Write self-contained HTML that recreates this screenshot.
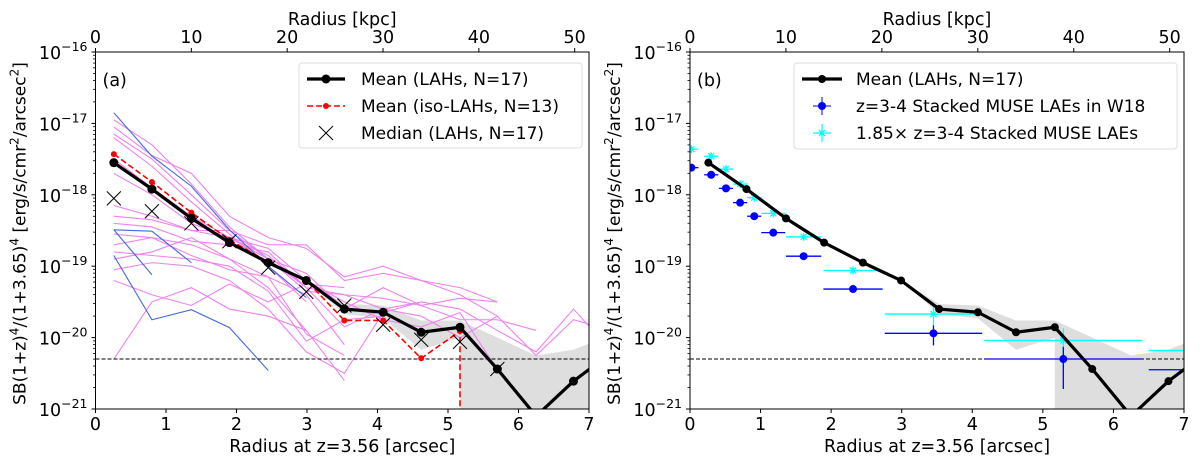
<!DOCTYPE html>
<html><head><meta charset="utf-8"><style>
html,body{margin:0;padding:0;background:#fff;overflow:hidden;}
svg{display:block;font-family:"DejaVu Sans","Liberation Sans",sans-serif;}
</style></head><body>
<svg id="fig" width="1200" height="467" viewBox="0 0 1200 467" xmlns="http://www.w3.org/2000/svg"></svg>
<script>
// ---------- data (log10 SB) ----------
const radii = [0.26,0.80,1.36,1.90,2.45,2.99,3.53,4.08,4.62,5.17,5.70,6.25,6.78,7.33];
const meanLAH = [-17.55,-17.92,-18.33,-18.67,-18.95,-19.20,-19.60,-19.645,-19.925,-19.855,-20.44,-21.1,-20.61,-20.2];
const meanIso = [-17.43,-17.82,-18.25,-18.63,-18.94,-19.20,-19.76,-19.76,-20.29,-19.91,-30,-30,-21.5,-20.5];
const medianLAH = [-18.05,-18.23,-18.40,-18.65,-19.02,-19.36,-19.55,-19.82,-20.03,-20.06,-20.44];
const bandX = [2.99,3.53,4.08,4.62,5.17,5.17,5.70,6.25,6.78,7.33];
const bandHi = [-19.2,-19.53,-19.55,-19.76,-19.76,-19.76,-20.0,-20.25,-20.17,-19.95];
const bandLo = [-19.2,-19.67,-19.73,-20.17,-20.0,-30,-30,-30,-30,-30];
const blueLines = [
 [-16.85,-17.46,-17.88,-18.49,-19.00,-19.44],
 [-18.49,-18.51,-18.95],
 [-18.49,-19.12],
 [-18.85,-19.75,-19.61,-19.86,-20.46]
];
const magentaLines = [
 [-16.95,-17.3,-17.85,-18.45,-18.9,-19.3],
 [-17.05,-17.45,-17.7,-18.3,-18.6,-18.75,-19.15,-19.0,-19.2,-19.4,-19.7],
 [-17.15,-17.5,-18.0,-18.5,-18.9,-19.1,-19.6,-19.3,-19.55,-19.45,-19.5],
 [-17.2,-17.6,-18.1,-18.55,-19.0,-19.5],
 [-17.5,-17.9,-18.3,-18.6,-18.85,-19.3,-19.85,-19.6,-19.7,-20.0,-19.7,-20.25,-19.75,-19.9],
 [-17.7,-18.0,-18.4,-18.6,-18.9,-19.35,-19.4,-19.6,-19.5,-19.6,-19.9,-20.2,-19.6,-20.2],
 [-18.15,-18.3,-18.5,-18.5,-18.7,-18.7,-19.2,-19.1,-19.2,-19.3,-19.5],
 [-18.3,-18.35,-18.5,-18.6,-18.75,-19.2,-19.5,-19.75,-19.85,-19.65,-20.45],
 [-18.4,-18.45,-18.65,-18.7,-18.8,-19.3,-19.4,-19.45,-19.55,-19.75,-19.75,-19.9],
 [-18.55,-18.6,-18.7,-18.9,-19.3,-19.9],
 [-18.7,-18.6,-18.85,-19.05,-19.15,-19.4,-20.1],
 [-18.8,-18.85,-18.9,-19.0,-19.35,-20.05,-19.75,-19.7],
 [-18.9,-18.8,-18.6,-18.9,-19.15,-19.95,-20.25],
 [-19.05,-18.95,-19.0,-19.2,-19.6,-20.2,-20.5,-19.65,-19.5],
 [-20.3,-19.5,-19.3,-19.6,-19.7,-19.9,-20.6],
 [-19.2,-19.4,-19.55,-19.25,-19.5,-19.25,-19.3]
];
const museX = [0.02,0.30,0.51,0.71,0.91,1.18,1.61,2.31,3.45,5.29,7.5];
const museXerr = [0.1,0.1,0.1,0.1,0.1,0.17,0.25,0.42,0.69,1.12,1.0];
const w18 = [-17.62,-17.72,-17.91,-18.11,-18.30,-18.53,-18.86,-19.32,-19.94,-20.30,-20.45];
const w18ErrUp = [0.04,0.04,0.04,0.04,0.04,0.04,0.04,0.04,0.11,0.17,0.05];
const w18ErrDn = [0.04,0.04,0.04,0.04,0.04,0.04,0.04,0.04,0.17,0.42,0.05];
const muse185 = [-17.36,-17.46,-17.64,-17.85,-18.04,-18.26,-18.59,-19.06,-19.67,-20.04,-20.18];
const m185ErrUp = [0.04,0.04,0.04,0.04,0.04,0.04,0.04,0.04,0.11,0.17,0.05];
const m185ErrDn = [0.04,0.04,0.04,0.04,0.04,0.04,0.04,0.04,0.17,0.42,0.05];
const detLimit = -20.3;
const xTicks = [0,1,2,3,4,5,6,7];
const kpcTicks = [0,10,20,30,40,50];
const yDecades = [-16,-17,-18,-19,-20,-21];
const kpcPerArcsec = 7.356;

const NS = "http://www.w3.org/2000/svg";
const svg = document.getElementById('fig');
function el(tag, attrs, parent){ const e=document.createElementNS(NS,tag); for(const k in attrs) e.setAttribute(k,attrs[k]); (parent||svg).appendChild(e); return e; }

function panel(id, X0, X1, label){
  const Y0=52, Y1=409;
  const sx = v => X0 + (v/7)*(X1-X0);
  const sy = v => Y0 + ((-16 - v)/5)*(Y1-Y0);
  const g = el('g',{});
  
  
  const cp = el('clipPath',{id:'clip'+id}, g);
  el('rect',{x:X0,y:Y0,width:X1-X0,height:Y1-Y0},cp);
  const plot = el('g',{'clip-path':'url(#clip'+id+')'}, g);
  
  
  let d='';
  bandX.forEach((x,i)=>{ d += (i?'L':'M')+sx(x)+','+sy(Math.max(bandHi[i],-22)); });
  for(let i=bandX.length-1;i>=0;i--) d += 'L'+sx(bandX[i])+','+sy(Math.max(bandLo[i],-22));
  const band = el('path',{d:d+'Z',fill:'#dedede',stroke:'none'},plot);
  
  
  const line = (vals, attrs, name) => {
    const pts = vals.map((v,i)=>sx(radii[i])+','+sy(Math.max(v,-22))).join(' ');
    const p = el('polyline',Object.assign({points:pts,fill:'none'},attrs),plot);
    
    
    return p;
  };
  if(id==='a'){
    magentaLines.forEach((m,i)=>line(m,{stroke:'#ee82ee','stroke-width':1.1},'lah-profile-'+(i+1)));
    blueLines.forEach((m,i)=>line(m,{stroke:'#4169e1','stroke-width':1.1},'blue-profile-'+(i+1)));
  }
  const dl = el('line',{x1:X0,x2:X1,y1:sy(detLimit),y2:sy(detLimit),stroke:'#000','stroke-width':1,'stroke-dasharray':'4,2'},plot);
  
  
  if(id==='a'){
    // iso mean: zero values drop vertically to the bottom
    let pd='', pen=false;
    meanIso.forEach((v,i)=>{
      const x=sx(radii[i]);
      if(v<=-30){ if(pen){ pd+='L'+x.toFixed(1)+','+(Y1+5); } pen=false; return; }
      if(!pen && i>0 && meanIso[i-1]<=-30){ pd+='M'+x+','+(Y1+5)+'L'+x+','+sy(v); }
      else pd += (pen?'L':'M')+x+','+sy(v);
      pen=true;
    });
    // first vertical drop at the point before a zero
    pd=''; pen=false;
    for(let i=0;i<meanIso.length;i++){
      const v=meanIso[i], x=sx(radii[i]);
      if(v<=-30){ if(pen){ const px=sx(radii[i-1]); pd+='L'+px+','+(Y1+5); } pen=false; continue; }
      pd += (pen?'L':'M')+x+','+sy(v); pen=true;
    }
    const ip=el('path',{d:pd,fill:'none',stroke:'#ff0000','stroke-width':1.6,'stroke-dasharray':'6,3'},plot);
    
    
    meanIso.forEach((v,i)=>{ const c=el('circle',{cx:sx(radii[i]),cy:sy(Math.max(v,-22)),r:3,fill:'#ff0000'},plot);
      
       });
  }
  if(id==='b'){
    const eb = (vals, up, dn, color, name, marker) => {
      vals.forEach((v,i)=>{
        const x=museX[i], gx=el('g',{},plot);
        
        
        el('line',{x1:sx(x-museXerr[i]),x2:sx(x+museXerr[i]),y1:sy(v),y2:sy(v),stroke:color,'stroke-width':1.3},gx);
        el('line',{x1:sx(x),x2:sx(x),y1:sy(v+up[i]),y2:sy(v-dn[i]),stroke:color,'stroke-width':1.3},gx);
        if(marker==='o') el('circle',{cx:sx(x),cy:sy(v),r:4,fill:color},gx);
        else { const cx=sx(x), cy=sy(v);
          el('path',{d:`M${cx-4},${cy}L${cx+4},${cy}M${cx},${cy-4}L${cx},${cy+4}M${cx-3},${cy-3}L${cx+3},${cy+3}M${cx-3},${cy+3}L${cx+3},${cy-3}`,stroke:color,'stroke-width':1.3},gx); }
      });
    };
    eb(muse185, m185ErrUp, m185ErrDn, '#00ffff','muse-185-point','*');
    eb(w18, w18ErrUp, w18ErrDn, '#0000ff','w18-point','o');
  }
  line(meanLAH,{stroke:'#000','stroke-width':3.2,'stroke-linejoin':'round'},'lah-mean-line');
  meanLAH.forEach((v,i)=>{ const c=el('circle',{cx:sx(radii[i]),cy:sy(v),r:id==='a'?4.5:4,fill:'#000'},plot);
    
     });
  if(id==='a'){
    medianLAH.forEach((v,i)=>{ const cx=sx(radii[i]), cy=sy(v);
      const p=el('path',{d:`M${cx-7},${cy-7}L${cx+7},${cy+7}M${cx-7},${cy+7}L${cx+7},${cy-7}`,stroke:'#000','stroke-width':1},plot);
      
       });
  }
  const fr = el('rect',{x:X0,y:Y0,width:X1-X0,height:Y1-Y0,fill:'none',stroke:'#000','stroke-width':1},g);
  
  
  xTicks.forEach(t=>{
    el('line',{x1:sx(t),x2:sx(t),y1:Y1,y2:Y1+4,stroke:'#000'},g);
    const tx=el('text',{x:sx(t),y:Y1+21,'font-size':17.5,'text-anchor':'middle'},g); tx.textContent=t;
    
    
  });
  kpcTicks.forEach(k=>{
    const x=sx(k/kpcPerArcsec);
    el('line',{x1:x,x2:x,y1:Y0,y2:Y0-4,stroke:'#000'},g);
    const tx=el('text',{x:x,y:Y0-9,'font-size':17.5,'text-anchor':'middle'},g); tx.textContent=k;
    
    
  });
  yDecades.forEach(dv=>{
    const y=sy(dv);
    el('line',{x1:X0,x2:X0-4,y1:y,y2:y,stroke:'#000'},g);
    const tx=el('text',{x:X0-8,y:y+7,'font-size':17.5,'text-anchor':'end'},g);
    
    
    const a=el('tspan',{},tx); a.textContent='10';
    const b=el('tspan',{dy:-8,'font-size':12.5},tx); b.textContent='\u2212'+(-dv);
    if(dv>-21) for(let k=2;k<=9;k++){ const yy=sy(dv-1+Math.log10(k));
      el('line',{x1:X0,x2:X0-2.5,y1:yy,y2:yy,stroke:'#000','stroke-width':0.8},g); }
  });
  const xl=el('text',{x:(X0+X1)/2,y:452,'font-size':17.5,'text-anchor':'middle'},g); xl.textContent='Radius at z=3.56 [arcsec]';
  
  
  const tl=el('text',{x:(X0+X1)/2,y:25,'font-size':17.5,'text-anchor':'middle'},g); tl.textContent='Radius [kpc]';
  
  
  const yl=el('text',{x:0,y:0,'font-size':17,'text-anchor':'middle',transform:`translate(${X0-70},${(Y0+Y1)/2+3}) rotate(-90)`},g);
  
  
  const parts=[['SB(1+z)',0],['4',1],['/(1+3.65)',0],['4',1],[' [erg/s/cmr',0],['2',1],['/arcsec',0],['2',1],[']',0]];
  let up=false;
  parts.forEach(([t,s])=>{ const ts=el('tspan',{},yl); ts.textContent=t;
    if(s&&!up){ts.setAttribute('dy',-7);ts.setAttribute('font-size',12);up=true;}
    else if(!s&&up){ts.setAttribute('dy',7);up=false;} else if(s){ts.setAttribute('font-size',12);} });
  const pl=el('text',{x:X0+7,y:86,'font-size':17.5},g); pl.textContent=label;
  
  
  return {g,sx,sy};
}
panel('a',95.5,589,'(a)');
panel('b',690,1184,'(b)');

function legend(x,y,w,h,entries,name){
  const g=el('g',{});
  
  
  el('rect',{x:x,y:y,width:w,height:h,rx:3,fill:'#fff','fill-opacity':0.8,stroke:'#ddd'},g);
  entries.forEach((e,i)=>{
    const cy=y+16+i*27, lx=x+8;
    e.draw(g,lx,cy);
    const t=el('text',{x:lx+54,y:cy+6,'font-size':17},g); t.textContent=e.text;
    
    
  });
}
legend(299,63,283,85,[
 {text:'Mean (LAHs, N=17)',draw:(g,x,y)=>{el('line',{x1:x,x2:x+38,y1:y,y2:y,stroke:'#000','stroke-width':3.2},g);el('circle',{cx:x+19,cy:y,r:4.5},g);}},
 {text:'Mean (iso-LAHs, N=13)',draw:(g,x,y)=>{el('line',{x1:x,x2:x+38,y1:y,y2:y,stroke:'#f00','stroke-width':1.6,'stroke-dasharray':'6,3'},g);el('circle',{cx:x+19,cy:y,r:3,fill:'#f00'},g);}},
 {text:'Median (LAHs, N=17)',draw:(g,x,y)=>{el('path',{d:`M${x+12},${y-7}L${x+26},${y+7}M${x+12},${y+7}L${x+26},${y-7}`,stroke:'#000'},g);}}
],'legend-a');
legend(794,63,383,86,[
 {text:'Mean (LAHs, N=17)',draw:(g,x,y)=>{el('line',{x1:x,x2:x+40,y1:y,y2:y,stroke:'#000','stroke-width':3.2},g);el('circle',{cx:x+20,cy:y,r:4},g);}},
 {text:'z=3-4 Stacked MUSE LAEs in W18',draw:(g,x,y)=>{el('line',{x1:x+11,x2:x+29,y1:y,y2:y,stroke:'#00f'},g);el('line',{x1:x+20,x2:x+20,y1:y-9,y2:y+9,stroke:'#00f'},g);el('circle',{cx:x+20,cy:y,r:4,fill:'#00f'},g);}},
 {text:'1.85\u00d7 z=3-4 Stacked MUSE LAEs',draw:(g,x,y)=>{el('line',{x1:x+11,x2:x+29,y1:y,y2:y,stroke:'#0ff','stroke-width':1.3},g);el('line',{x1:x+20,x2:x+20,y1:y-9,y2:y+9,stroke:'#0ff','stroke-width':1.3},g);el('path',{d:`M${x+17},${y-3}L${x+23},${y+3}M${x+17},${y+3}L${x+23},${y-3}`,stroke:'#0ff','stroke-width':1.3},g);}}
],'legend-b');
</script>
</body></html>
